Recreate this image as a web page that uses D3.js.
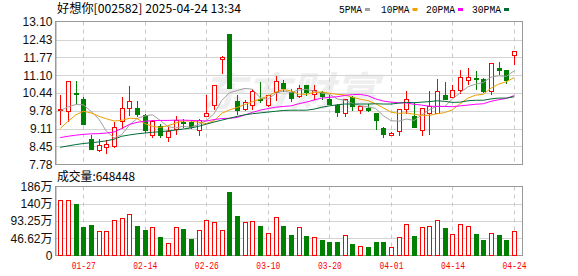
<!DOCTYPE html>
<html><head><meta charset="utf-8">
<script src="https://cdn.jsdelivr.net/npm/d3@7"></script>
<style>body{margin:0;background:#fff;} svg{display:block;}</style>
</head><body><svg id="c" width="578" height="276"></svg>
<script>
const dates = ["01-22","01-23","01-24","01-27","02-05","02-06","02-07","02-10","02-11","02-12",
"02-13","02-14","02-17","02-18","02-19","02-20","02-21","02-24","02-25","02-26",
"02-27","02-28","03-03","03-04","03-05","03-06","03-07","03-10","03-11","03-12",
"03-13","03-14","03-17","03-18","03-19","03-20","03-21","03-24","03-25","03-26",
"03-27","03-28","03-31","04-01","04-02","04-03","04-07","04-08","04-09","04-10",
"04-11","04-14","04-15","04-16","04-17","04-18","04-21","04-22","04-23","04-24"];
const openP = [9.83,9.76,10.43,10.22,8.74,8.33,8.42,8.46,9.38,9.89,
9.89,9.63,8.89,9.23,8.80,9.11,9.37,9.35,9.05,9.58,
9.98,11.70,12.64,10.16,9.85,9.98,10.20,10.01,10.47,10.81,
10.47,10.31,10.72,10.41,10.47,10.22,9.98,9.70,10.28,9.82,
9.89,9.70,9.15,8.89,9.01,9.85,9.58,9.05,9.69,9.69,
10.35,10.28,10.56,10.93,10.98,10.97,10.53,11.38,11.28,11.84];
const highP = [10.35,10.87,10.90,10.28,8.88,8.74,8.70,9.35,10.28,10.69,
10.16,9.67,9.44,9.27,9.17,9.60,9.48,9.42,9.48,10.35,
10.72,11.80,12.64,10.35,10.19,10.60,10.84,10.38,11.09,10.91,
10.60,10.72,10.75,10.72,10.51,10.35,10.04,10.22,10.31,9.94,
10.04,9.70,9.19,8.98,9.85,10.51,10.05,9.89,10.50,10.97,
10.84,10.72,11.30,11.38,11.25,11.01,11.55,11.59,11.28,12.00];
const lowP = [9.29,9.39,10.04,9.29,8.36,8.28,8.22,8.42,9.15,9.63,
9.60,8.98,8.80,8.82,8.67,8.92,9.19,9.14,8.89,9.58,
9.85,11.18,10.62,9.67,9.79,9.85,10.10,9.94,10.19,10.51,
10.16,10.28,10.38,10.22,10.22,10.04,9.57,9.57,9.82,9.69,
9.76,9.11,8.82,8.89,8.86,9.69,9.19,8.86,8.92,9.69,
10.20,10.28,10.43,10.76,10.60,10.47,10.41,11.13,10.81,11.53];
const closeP = [9.86,10.87,10.41,9.29,8.36,8.49,8.55,9.17,9.88,10.16,
9.67,9.05,9.38,8.86,9.01,9.42,9.35,9.17,9.42,9.70,
10.72,11.79,10.62,9.82,10.12,10.53,10.19,10.38,10.87,10.63,
10.25,10.63,10.47,10.56,10.31,10.04,9.73,10.22,9.94,9.94,
9.79,9.44,8.90,8.96,9.85,10.22,9.19,9.89,9.94,10.50,
10.20,10.56,11.05,11.05,10.97,10.53,11.55,11.30,10.93,12.00];
// volume in 万 (10k)
const volume = [150,150,137.5,75.5,80.9,64.7,66.5,96.2,101.6,113.2,
78.2,67.4,75.5,51.2,35,75.5,70.1,45.8,69.2,96.1,
89,67.4,172.5,107.8,90.7,93.4,78.2,62,105.1,78.2,
56.6,75.5,53.9,51.2,43.1,37.7,37.7,56.6,32.3,24.3,
21.6,37.7,37.7,21.6,50.3,85.3,53.9,75.5,78.2,96.1,
72.8,59.3,85.3,80,59.3,43.1,62,56.6,43.1,64.8448];
const ma5 = [9.78,9.92,10.01,10.00,9.76,9.48,9.02,8.77,8.89,9.25,
9.49,9.59,9.63,9.42,9.19,9.14,9.20,9.16,9.27,9.41,
9.67,10.16,10.45,10.53,10.61,10.58,10.26,10.21,10.42,10.52,
10.46,10.55,10.57,10.51,10.44,10.40,10.22,10.17,10.05,9.97,
9.92,9.87,9.60,9.41,9.39,9.47,9.42,9.62,9.82,9.95,
9.94,10.22,10.45,10.67,10.77,10.83,11.03,11.08,11.06,11.26];
const ma10 = [9.12,9.38,9.62,9.76,9.70,9.58,9.48,9.40,9.42,9.50,
9.49,9.30,9.20,9.16,9.22,9.32,9.40,9.40,9.35,9.30,
9.41,9.68,9.81,9.90,10.01,10.12,10.21,10.33,10.47,10.57,
10.52,10.40,10.39,10.46,10.48,10.43,10.39,10.37,10.28,10.21,
10.16,10.04,9.89,9.73,9.68,9.70,9.65,9.61,9.61,9.67,
9.71,9.82,10.04,10.25,10.36,10.39,10.62,10.77,10.86,11.01];
const ma20 = [8.78,8.83,8.87,8.90,8.92,8.93,8.95,8.99,9.12,9.27,
9.35,9.39,9.41,9.42,9.42,9.43,9.43,9.42,9.41,9.40,
9.45,9.49,9.50,9.53,9.62,9.72,9.80,9.86,9.91,9.94,
9.96,10.04,10.10,10.18,10.25,10.28,10.30,10.35,10.38,10.39,
10.34,10.22,10.14,10.10,10.08,10.07,10.02,9.99,9.95,9.94,
9.94,9.93,9.96,9.99,10.02,10.04,10.13,10.19,10.24,10.34];
const ma30 = [8.42,8.47,8.52,8.56,8.59,8.62,8.66,8.72,8.83,8.88,
8.92,8.95,8.98,9.00,9.03,9.06,9.10,9.14,9.20,9.28,
9.36,9.43,9.50,9.57,9.63,9.67,9.70,9.73,9.76,9.79,
9.80,9.80,9.80,9.84,9.91,9.96,10.00,10.03,10.03,10.03,
10.03,10.04,10.03,10.03,10.06,10.09,10.08,10.10,10.12,10.15,
10.13,10.09,10.10,10.15,10.17,10.17,10.22,10.25,10.25,10.30];
const priceTicks = [13.10,12.43,11.77,11.10,10.44,9.78,9.11,8.45,7.78];
const volTicks = [186,140,93.25,46.62,0];
const volTickLabels = ["186万","140万","93.25万","46.62万","0"];
const dateTicks = ["01-27","02-14","02-26","03-10","03-20","04-01","04-14","04-24"];
const maNames = ["5PMA","10PMA","20PMA","30PMA"];

const RED = "#ff0000", GREEN = "#008000";
const maColors = ["#a0a0a0","#f0a000","#ff00ff","#006b35"];
const L = 55.5, R = 522.5, PT = 21.5, PB = 164.5, VT = 186.5, VB = 255.5;

const svg = d3.select("#c");
const x = d3.scalePoint().domain(dates).range([60.2, 514]);
const yP = d3.scaleLinear().domain([7.78, 13.10]).range([PB, PT]);
const yV = d3.scaleLinear().domain([0, 186]).range([VB, VT]);

// watermark
svg.append("text").attr("x", 202).attr("y", 106)
  .attr("font-family", "Noto Sans CJK SC").attr("font-size", 40).attr("font-weight", "bold")
  .attr("font-style", "italic").attr("fill", "#eeeeee")
  .attr("textLength", 176).attr("lengthAdjust", "spacingAndGlyphs").text("东方财富");

// grids
const g = svg.append("g");
g.selectAll(".hp").data(priceTicks.slice(1, -1)).join("line")
  .attr("x1", L).attr("x2", R).attr("y1", d => Math.round(yP(d)) + 0.5).attr("y2", d => Math.round(yP(d)) + 0.5)
  .attr("stroke", "#d4d4d4");
g.selectAll(".hv").data(volTicks.slice(1, -1)).join("line")
  .attr("x1", L).attr("x2", R).attr("y1", d => Math.round(yV(d)) + 0.5).attr("y2", d => Math.round(yV(d)) + 0.5)
  .attr("stroke", "#d4d4d4");
dateTicks.forEach(d => {
  const xx = Math.round(x(d)) + 0.5;
  [[PT, PB], [VT, VB]].forEach(([a, b]) => {
    g.append("line").attr("x1", xx).attr("x2", xx).attr("y1", a).attr("y2", b)
      .attr("stroke", "#c8c8c8").attr("stroke-dasharray", "4,4");
  });
});
// frames
[[PT, PB], [VT, VB]].forEach(([a, b]) => {
  svg.append("rect").attr("x", L).attr("y", a).attr("width", R - L).attr("height", b - a)
    .attr("fill", "none").attr("stroke", "#999");
});

// axes
const axP = svg.append("g").attr("transform", `translate(${L},0)`)
  .call(d3.axisLeft(yP).tickValues(priceTicks).tickSize(0).tickPadding(3).tickFormat(d3.format(".2f")));
const axV = svg.append("g").attr("transform", `translate(${L},0)`)
  .call(d3.axisLeft(yV).tickValues(volTicks).tickSize(0).tickPadding(3).tickFormat((d, i) => volTickLabels[i]));
const axX = svg.append("g").attr("transform", `translate(0,${VB})`)
  .call(d3.axisBottom(x).tickValues(dateTicks).tickSize(0).tickPadding(6));
[axP, axV, axX].forEach(a => { a.select(".domain").attr("stroke", "#999"); });
axX.select(".domain").remove();
axP.selectAll("text").attr("font-family", "Liberation Sans, Arial").attr("font-size", 12).attr("fill", "#111");
axV.selectAll("text").attr("font-family", "Liberation Sans, Arial, Noto Sans CJK SC").attr("font-size", 12).attr("fill", "#111");
axX.selectAll("text").attr("font-family", "Liberation Mono, monospace").attr("font-size", 11).attr("fill", RED)
  .attr("textLength", 24).attr("lengthAdjust", "spacingAndGlyphs");

// candles
const idx = d3.range(dates.length);
const cg = svg.append("g");
idx.forEach(i => {
  const up = closeP[i] >= openP[i];
  const cx = Math.round(x(dates[i]));
  const col = up ? RED : GREEN;
  cg.append("line").attr("x1", cx + 0.5).attr("x2", cx + 0.5)
    .attr("y1", Math.round(yP(highP[i]))).attr("y2", Math.round(yP(lowP[i])) + 1)
    .attr("stroke", col);
  const yt = Math.round(yP(Math.max(openP[i], closeP[i])));
  const yb = Math.round(yP(Math.min(openP[i], closeP[i])));
  if (up) {
    cg.append("rect").attr("x", cx - 2 + 0.5).attr("y", yt + 0.5).attr("width", 4).attr("height", Math.max(yb - yt, 1))
      .attr("fill", "#fff").attr("stroke", RED);
  } else {
    cg.append("rect").attr("x", cx - 2).attr("y", yt).attr("width", 5).attr("height", Math.max(yb - yt, 1) + 1)
      .attr("fill", GREEN);
  }
  // volume
  const vy = Math.round(yV(volume[i]));
  if (up) {
    cg.append("rect").attr("x", cx - 2 + 0.5).attr("y", vy + 0.5).attr("width", 4).attr("height", Math.round(VB) - vy - 1)
      .attr("fill", "#fff").attr("stroke", RED);
  } else {
    cg.append("rect").attr("x", cx - 2).attr("y", vy).attr("width", 5).attr("height", Math.round(VB) - vy)
      .attr("fill", GREEN);
  }
});

// MA lines
const line = d3.line().x((d, i) => x(dates[i])).y(d => yP(d));
[ma5, ma10, ma20, ma30].forEach((arr, k) => {
  svg.append("path").datum(arr).attr("d", line).attr("fill", "none")
    .attr("stroke", maColors[k]).attr("stroke-width", 1);
});

// title
svg.append("text").attr("x", 57).attr("y", 13).attr("font-family", "Noto Sans CJK SC, sans-serif")
  .attr("font-size", 12).attr("fill", "#000").attr("textLength", 184).attr("lengthAdjust", "spacingAndGlyphs")
  .text("好想你[002582] 2025-04-24 13:34");

// legend
const legX = [339, 381, 426, 472], legW = [23, 28.5, 29, 29];
maNames.forEach((n, k) => {
  svg.append("text").attr("x", legX[k]).attr("y", 12.5).attr("font-family", "Liberation Mono, monospace")
    .attr("font-size", 11).attr("fill", "#000").attr("textLength", legW[k]).attr("lengthAdjust", "spacingAndGlyphs").text(n);
  svg.append("rect").attr("x", legX[k] + legW[k] + 3).attr("y", 8).attr("width", 5).attr("height", 3)
    .attr("fill", maColors[k]);
});

// volume label
svg.append("text").attr("x", 57).attr("y", 181).attr("font-family", "Noto Sans CJK SC, sans-serif")
  .attr("font-size", 12).attr("fill", "#000").attr("textLength", 78).attr("lengthAdjust", "spacingAndGlyphs")
  .text("成交量:" + Math.round(volume[volume.length - 1] * 10000));
</script></body></html>
